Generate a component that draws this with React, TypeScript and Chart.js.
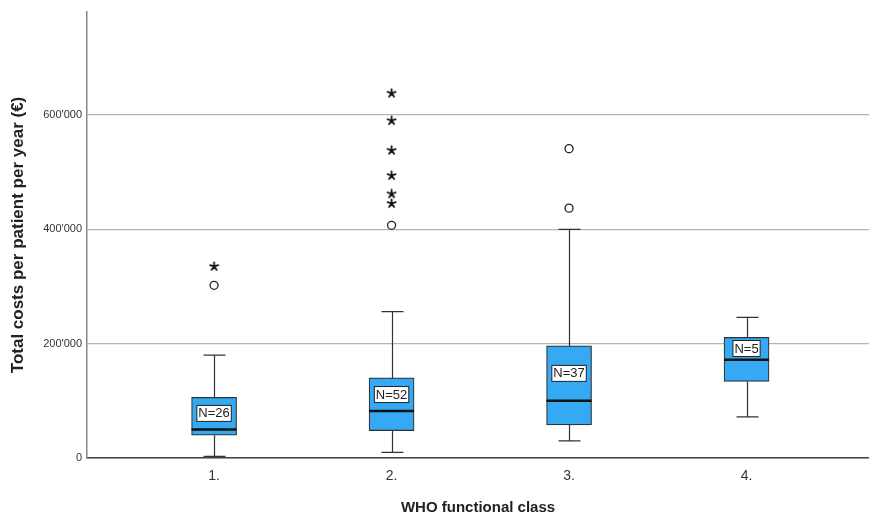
import React, { useEffect, useRef } from "react";
import { Chart, registerables } from "chart.js";

Chart.register(...registerables);

const categories = ["1.", "2.", "3.", "4."];
const xPositions = [1, 2, 3, 4];
const whiskerLow = [3000, 10000, 30000, 72000];
const q1 = [40000, 48000, 58000, 134000];
const medians = [50000, 82000, 100000, 172000];
const q3 = [106000, 140000, 196000, 211000];
const whiskerHigh = [180000, 256000, 400000, 246000];
const nCounts = [26, 52, 37, 5];

const circleX = [1, 2, 3, 3];
const circleY = [302000, 407000, 437000, 541000];
const starX = [1, 2, 2, 2, 2, 2, 2];
const starY = [335000, 445000, 462000, 494000, 538000, 590000, 638000];

const yTicks = [0, 200000, 400000, 600000];

const FONT = "'Liberation Sans', Arial, Helvetica, sans-serif";
const BOX_W = 45;
const CAP_W = 22;

function fmt(v: number): string {
  const s = Math.round(v).toString();
  return s.replace(/\B(?=(\d{3})+(?!\d))/g, "'");
}

const boxPlugin = {
  id: "boxExtras",
  beforeDatasetsDraw(chart: any) {
    const { ctx, scales } = chart;
    const xs = scales.x, ys = scales.y;
    ctx.save();
    ctx.strokeStyle = "#333";
    ctx.lineWidth = 1.2;
    xPositions.forEach((xv, i) => {
      const px = Math.round(xs.getPixelForValue(xv)) + 0.5;
      const yLo = ys.getPixelForValue(whiskerLow[i]);
      const yHi = ys.getPixelForValue(whiskerHigh[i]);
      const yQ1 = ys.getPixelForValue(q1[i]);
      const yQ3 = ys.getPixelForValue(q3[i]);
      ctx.beginPath();
      ctx.moveTo(px, yQ1);
      ctx.lineTo(px, yLo);
      ctx.moveTo(px, yQ3);
      ctx.lineTo(px, yHi);
      ctx.moveTo(px - CAP_W / 2, yLo);
      ctx.lineTo(px + CAP_W / 2, yLo);
      ctx.moveTo(px - CAP_W / 2, yHi);
      ctx.lineTo(px + CAP_W / 2, yHi);
      ctx.stroke();
    });
    ctx.restore();
  },
  afterDatasetsDraw(chart: any) {
    const { ctx, scales } = chart;
    const xs = scales.x, ys = scales.y;
    ctx.save();
    xPositions.forEach((xv, i) => {
      const px = xs.getPixelForValue(xv);
      const yMed = ys.getPixelForValue(medians[i]);
      ctx.strokeStyle = "#111";
      ctx.lineWidth = 2.5;
      ctx.beginPath();
      ctx.moveTo(px - BOX_W / 2, yMed);
      ctx.lineTo(px + BOX_W / 2, yMed);
      ctx.stroke();

      const yQ3 = ys.getPixelForValue(q3[i]);
      const ly = (yQ3 + yMed) / 2;
      const text = "N=" + nCounts[i];
      ctx.font = "13px " + FONT;
      const tw = ctx.measureText(text).width;
      const w = tw + 3;
      const h = 16;
      ctx.fillStyle = "#fff";
      ctx.fillRect(px - w / 2, ly - h / 2, w, h);
      ctx.strokeStyle = "#222";
      ctx.lineWidth = 1;
      ctx.strokeRect(px - w / 2, ly - h / 2, w, h);
      ctx.fillStyle = "#222";
      ctx.textAlign = "center";
      ctx.textBaseline = "middle";
      ctx.fillText(text, px, ly + 0.5);
    });
    ctx.restore();
  },
};

function makeStar(): HTMLCanvasElement {
  const c = document.createElement("canvas");
  c.width = 11;
  c.height = 11;
  const g = c.getContext("2d")!;
  g.strokeStyle = "#111";
  g.lineWidth = 1.8;
  g.lineCap = "round";
  g.beginPath();
  for (let k = 0; k < 5; k++) {
    const a = -Math.PI / 2 + (k * 2 * Math.PI) / 5;
    g.moveTo(5.5, 5.5);
    g.lineTo(5.5 + Math.cos(a) * 4.2, 5.5 + Math.sin(a) * 4.2);
  }
  g.stroke();
  return c;
}

export default function App() {
  const ref = useRef<HTMLCanvasElement | null>(null);

  useEffect(() => {
    if (!ref.current) return;
    const star = makeStar();
    const chart = new Chart(ref.current, {
      type: "bar",
      data: {
        datasets: [
          {
            type: "bar",
            data: xPositions.map((x, i) => ({ x, y: [q1[i], q3[i]] })) as any,
            backgroundColor: "#35a9f4",
            borderColor: "#333",
            borderWidth: 1.2,
            borderSkipped: false,
            barThickness: BOX_W,
          } as any,
          {
            type: "scatter",
            data: circleX.map((x, i) => ({ x, y: circleY[i] })),
            pointStyle: "circle",
            pointRadius: 4,
            pointBackgroundColor: "#fff",
            pointBorderColor: "#222",
            pointBorderWidth: 1.3,
          } as any,
          {
            type: "scatter",
            data: starX.map((x, i) => ({ x, y: starY[i] })),
            pointStyle: star,
            pointRadius: 5,
          } as any,
        ],
      },
      options: {
        animation: false,
        responsive: false,
        maintainAspectRatio: false,
        layout: { autoPadding: false, padding: { top: 12, right: 0, bottom: 0, left: 0 } },
        plugins: { legend: { display: false }, tooltip: { enabled: false } },
        scales: {
          x: {
            type: "linear",
            min: 0.284,
            max: 4.69,
            offset: false,
            afterBuildTicks: (s: any) => {
              s.ticks = xPositions.map((v) => ({ value: v }));
            },
            afterFit: (s: any) => {
              s.height = 59;
              s.paddingLeft = 0;
              s.paddingRight = 0;
            },
            ticks: {
              callback: (v: any) => categories[xPositions.indexOf(Number(v))] ?? "",
              font: { size: 14, family: FONT },
              color: "#333",
              padding: 10,
              maxRotation: 0,
            },
            grid: { display: false, drawTicks: false, offset: false },
            border: { display: true, color: "#444", width: 1.5 },
            title: {
              display: true,
              text: "WHO functional class",
              font: { size: 15, weight: "bold", family: FONT },
              color: "#222",
              padding: { top: 0, bottom: 0 },
            },
          },
          y: {
            type: "linear",
            min: 0,
            max: 780000,
            afterBuildTicks: (s: any) => {
              s.ticks = yTicks.map((v) => ({ value: v }));
            },
            afterFit: (s: any) => {
              s.width = 87;
            },
            ticks: {
              callback: (v: any) => fmt(Number(v)),
              font: { size: 11, family: FONT },
              color: "#333",
              padding: 5,
            },
            grid: { color: "#b5b5b5", lineWidth: 1.2, drawTicks: false },
            border: { display: true, color: "#888", width: 1.5 },
            title: {
              display: true,
              text: "Total costs per patient per year (€)",
              font: { size: 17, weight: "bold", family: FONT },
              color: "#222",
              padding: { top: 8, bottom: 0 },
            },
          },
        },
      },
      plugins: [boxPlugin],
    } as any);
    return () => chart.destroy();
  }, []);

  return (
    <div style={{ position: "fixed", left: 0, top: 0, width: 869, height: 517, background: "#fff" }}>
      <canvas ref={ref} width={869} height={517} style={{ display: "block" }} />
    </div>
  );
}
